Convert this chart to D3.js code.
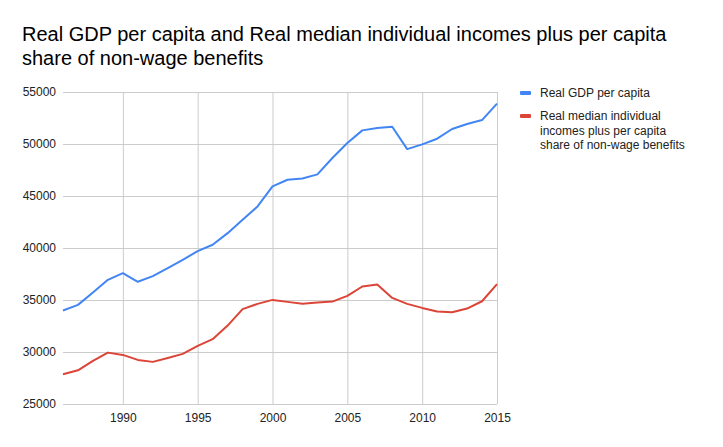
<!DOCTYPE html>
<html>
<head>
<meta charset="utf-8">
<script src="https://cdn.jsdelivr.net/npm/d3@7"></script>
<style>
  body { margin: 0; background: #fff; }
  svg { display: block; font-family: "Liberation Sans", Arial, sans-serif; }
</style>
</head>
<body>
<div id="chart"></div>
<script>
const years = d3.range(1986, 2016);

const gdpPerCapita = [
  33990, 34530, 35720, 36940, 37580, 36750, 37290, 38060, 38860, 39700,
  40310, 41430, 42710, 44000, 45920, 46560, 46690, 47080, 48650, 50090,
  51310, 51540, 51660, 49510, 49960, 50510, 51440, 51920, 52300, 53880
];

const medianIncome = [
  27860, 28240, 29140, 29940, 29720, 29240, 29050, 29430, 29820, 30590,
  31230, 32540, 34120, 34630, 35010, 34820, 34630, 34760, 34850, 35400,
  36300, 36490, 35200, 34630, 34240, 33890, 33830, 34180, 34880, 36520
];

const yTicks = [25000, 30000, 35000, 40000, 45000, 50000, 55000];
const xTicks = [1990, 1995, 2000, 2005, 2010, 2015];

const seriesColors = ['#4285f4', '#db4437'];

const titleLines = [
  'Real GDP per capita and Real median individual incomes plus per capita',
  'share of non-wage benefits'
];
const legendLines = [
  ['Real GDP per capita'],
  ['Real median individual', 'incomes plus per capita', 'share of non-wage benefits']
];

const width = 723, height = 447;
const margin = { top: 92, right: 226, bottom: 43, left: 63 };

const svg = d3.select('#chart')
  .append('svg')
  .attr('width', width)
  .attr('height', height);

const x = d3.scaleLinear()
  .domain([1986, 2015])
  .range([margin.left, width - margin.right]);

const y = d3.scaleLinear()
  .domain([25000, 55000])
  .range([height - margin.bottom, margin.top]);

// title
svg.append('text')
  .attr('font-size', '20px')
  .attr('fill', '#000')
  .selectAll('tspan')
  .data(titleLines)
  .join('tspan')
  .attr('x', 22)
  .attr('y', (d, i) => 41 + i * 24)
  .text(d => d);

// horizontal grid + y labels
const yAxis = d3.axisLeft(y)
  .tickValues(yTicks)
  .tickSize(-(width - margin.left - margin.right))
  .tickPadding(7)
  .tickFormat(d3.format('d'));

svg.append('g')
  .attr('transform', `translate(${margin.left},0)`)
  .call(yAxis)
  .call(g => g.select('.domain').remove())
  .call(g => g.selectAll('.tick line').attr('stroke', '#cccccc'))
  .call(g => g.selectAll('.tick text')
    .attr('fill', '#222')
    .attr('font-family', '"Liberation Sans", Arial, sans-serif')
    .attr('font-size', '12px'));

// vertical grid + x labels
const xAxis = d3.axisBottom(x)
  .tickValues(xTicks)
  .tickSize(-(height - margin.top - margin.bottom))
  .tickPadding(9)
  .tickFormat(d3.format('d'));

svg.append('g')
  .attr('transform', `translate(0,${height - margin.bottom})`)
  .call(xAxis)
  .call(g => g.select('.domain').remove())
  .call(g => g.selectAll('.tick line').attr('stroke', '#cccccc'))
  .call(g => g.selectAll('.tick text')
    .attr('fill', '#222')
    .attr('font-family', '"Liberation Sans", Arial, sans-serif')
    .attr('font-size', '12px'));

// lines
const line = d3.line()
  .x((d, i) => x(years[i]))
  .y(d => y(d));

[gdpPerCapita, medianIncome].forEach((values, i) => {
  svg.append('path')
    .datum(values)
    .attr('fill', 'none')
    .attr('stroke', seriesColors[i])
    .attr('stroke-width', 2)
    .attr('stroke-linejoin', 'round')
    .attr('d', line);
});

// legend
const legend = svg.append('g');
const legendY = [93, 116];

legendLines.forEach((lines, i) => {
  legend.append('rect')
    .attr('x', 520)
    .attr('y', legendY[i] - 2)
    .attr('width', 11)
    .attr('height', 4)
    .attr('rx', 1)
    .attr('fill', seriesColors[i]);

  legend.append('text')
    .attr('font-size', '12px')
    .attr('fill', '#222')
    .selectAll('tspan')
    .data(lines)
    .join('tspan')
    .attr('x', 540)
    .attr('y', (d, j) => legendY[i] + 4 + j * 14.5)
    .text(d => d);
});
</script>
</body>
</html>
